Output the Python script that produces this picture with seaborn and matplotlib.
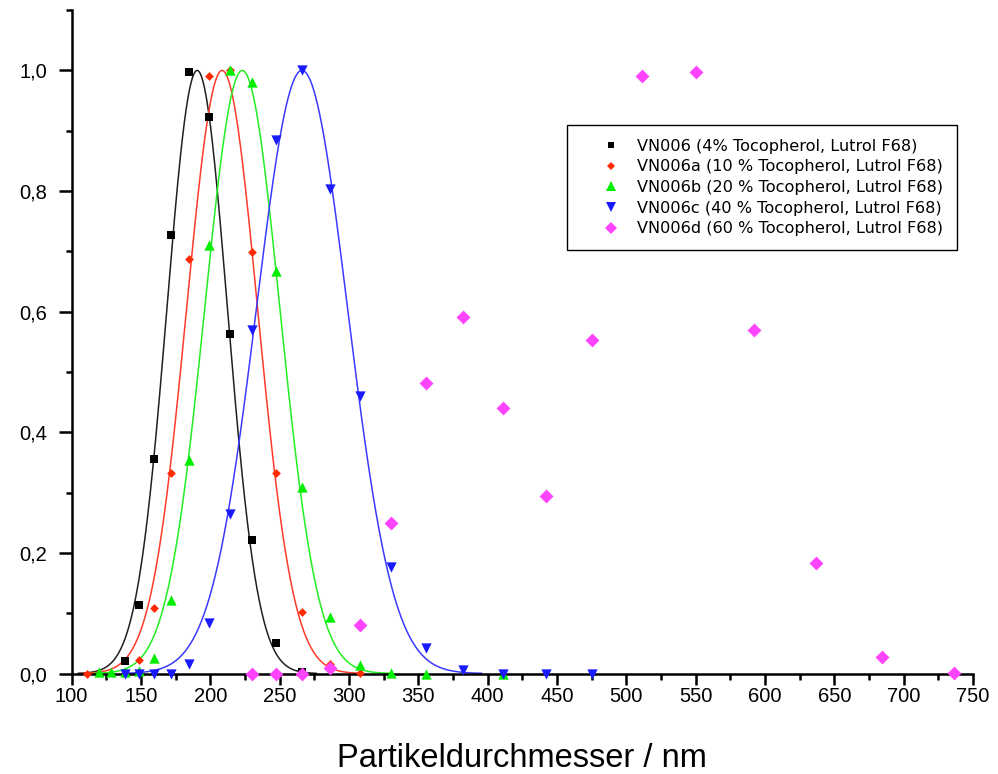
import numpy as np
import matplotlib
matplotlib.use("Agg")
import matplotlib.pyplot as plt
from matplotlib.ticker import MultipleLocator, FuncFormatter
from matplotlib.lines import Line2D
import seaborn as sns

sns.set_style("ticks", {"text.color": "black", "axes.labelcolor": "black",
                        "xtick.color": "black", "ytick.color": "black"})
plt.rcParams["font.family"] = ["Liberation Sans", "DejaVu Sans"]

# Particle size bins (nm) and normalised intensity per formulation
x_vn006 = [138.2, 148.5, 159.7, 171.7, 184.8, 198.8, 214.0, 230.0, 247.5, 266.0]
y_vn006 = [0.021, 0.113, 0.355, 0.727, 0.997, 0.922, 0.563, 0.221, 0.050, 0.003]

x_vn006a = [111.1, 148.5, 159.7, 171.7, 184.8, 198.8, 214.0, 230.0, 247.5, 266.0, 286.3, 307.6]
y_vn006a = [0.0, 0.022, 0.109, 0.333, 0.688, 0.990, 1.0, 0.699, 0.333, 0.102, 0.016, 0.001]

x_vn006b = [119.4, 128.4, 138.2, 148.5, 159.7, 171.7, 184.8, 198.8, 214.0, 230.0,
            247.5, 266.0, 286.3, 307.6, 330.5, 355.5, 411.0]
y_vn006b = [0.003, 0.003, 0.002, 0.004, 0.025, 0.122, 0.354, 0.710, 1.0, 0.980,
            0.667, 0.309, 0.093, 0.014, 0.001, 0.0, 0.0]

x_vn006c = [138.2, 148.5, 159.7, 171.7, 184.8, 198.8, 214.0, 230.0, 247.5, 266.0,
            286.3, 307.6, 330.5, 355.5, 382.0, 411.0, 442.0, 475.5]
y_vn006c = [0.0, 0.0, 0.0, 0.0, 0.015, 0.084, 0.265, 0.570, 0.884, 1.0,
            0.804, 0.460, 0.177, 0.042, 0.006, 0.0, 0.0, 0.0]

x_vn006d = [230.0, 247.5, 266.0, 286.3, 307.6, 330.5, 355.5, 382.0, 411.0, 442.0,
            475.5, 511.5, 550.0, 592.0, 636.5, 684.5, 736.0]
y_vn006d = [0.0, 0.0, 0.0, 0.010, 0.080, 0.249, 0.481, 0.591, 0.440, 0.294,
            0.553, 0.991, 0.997, 0.570, 0.183, 0.028, 0.001]

labels = [
    "VN006 (4% Tocopherol, Lutrol F68)",
    "VN006a (10 % Tocopherol, Lutrol F68)",
    "VN006b (20 % Tocopherol, Lutrol F68)",
    "VN006c (40 % Tocopherol, Lutrol F68)",
    "VN006d (60 % Tocopherol, Lutrol F68)",
]
series = [
    (x_vn006, y_vn006, "#000000", "#202020", "s", 26, True),
    (x_vn006a, y_vn006a, "#ff2a00", "#ff3a2a", "D", 20, True),
    (x_vn006b, y_vn006b, "#00ee00", "#22ee22", "^", 55, True),
    (x_vn006c, y_vn006c, "#1a1aff", "#3a3aff", "v", 55, True),
    (x_vn006d, y_vn006d, "#ff44ff", "#ff44ff", "D", 50, False),
]


def gauss_fit(x, y):
    """Least-squares unit-height Gaussian: returns centre and width (nm)."""
    xx = np.asarray(x, float)
    yy = np.asarray(y, float)
    mus = np.linspace(xx.min(), xx.max(), 800)
    sig = np.linspace(5, 120, 460)
    M, S = np.meshgrid(mus, sig, indexing="ij")
    g = np.exp(-(xx[None, None, :] - M[..., None]) ** 2 / (2 * S[..., None] ** 2))
    sse = ((g - yy) ** 2).sum(-1)
    i = np.unravel_index(np.argmin(sse), sse.shape)
    return M[i], S[i]


fig = plt.figure(figsize=(9.98, 7.74), dpi=100)
ax = fig.add_axes([0.0718, 0.1298, 0.9032, 0.8572])

xs = np.linspace(100, 750, 2000)
handles = []
for (x, y, mcol, lcol, mk, size, fit), lab in zip(series, labels):
    if fit:
        mu, s = gauss_fit(x, y)
        ys = np.exp(-(xs - mu) ** 2 / (2 * s ** 2))
        keep = ys > 4e-4
        sns.lineplot(x=xs[keep], y=ys[keep], color=lcol, linewidth=1.1,
                     ax=ax, legend=False, zorder=2, sort=False)
    sns.scatterplot(x=x, y=y, marker=mk, s=size, color=mcol, linewidth=0,
                    ax=ax, legend=False, zorder=4, clip_on=False)
    handles.append(Line2D([], [], linestyle="none", marker=mk, color=mcol,
                          markersize=np.sqrt(size) * 0.9, markeredgewidth=0))

ax.set_xlim(100, 750)
ax.set_ylim(0, 1.1001)

ax.xaxis.set_major_locator(MultipleLocator(50))
ax.xaxis.set_minor_locator(MultipleLocator(25))
ax.yaxis.set_major_locator(MultipleLocator(0.2))
ax.yaxis.set_minor_locator(MultipleLocator(0.1))
ax.yaxis.set_major_formatter(FuncFormatter(lambda v, p: f"{v:.1f}".replace(".", ",")))

for side in ("top", "right"):
    ax.spines[side].set_visible(False)
for side in ("left", "bottom"):
    ax.spines[side].set_linewidth(1.8)
    ax.spines[side].set_color("black")
    ax.spines[side].set_zorder(3)

ax.tick_params(axis="both", which="major", direction="out", length=8, width=1.8,
               labelsize=14.5, colors="black", pad=2)
ax.tick_params(axis="both", which="minor", direction="out", length=4.5, width=1.8,
               colors="black")
ax.tick_params(axis="y", which="major", length=9.5, pad=8)

ax.set_xlabel("Partikeldurchmesser / nm", fontsize=23.5, labelpad=26, color="black")
ax.set_ylabel("")

leg = ax.legend(handles, labels, loc="upper left", bbox_to_anchor=(0.5495, 0.8267),
                frameon=True, fancybox=False, framealpha=1, edgecolor="black",
                prop={"family": "DejaVu Sans", "size": 11.6}, handletextpad=-0.3,
                labelspacing=0.35, borderpad=0.85, handlelength=3.8, borderaxespad=0)
leg.get_frame().set_linewidth(1.0)
leg.set_zorder(5)
for t in leg.get_texts():
    t.set_color("black")

fig.savefig("out.png", dpi=100)
